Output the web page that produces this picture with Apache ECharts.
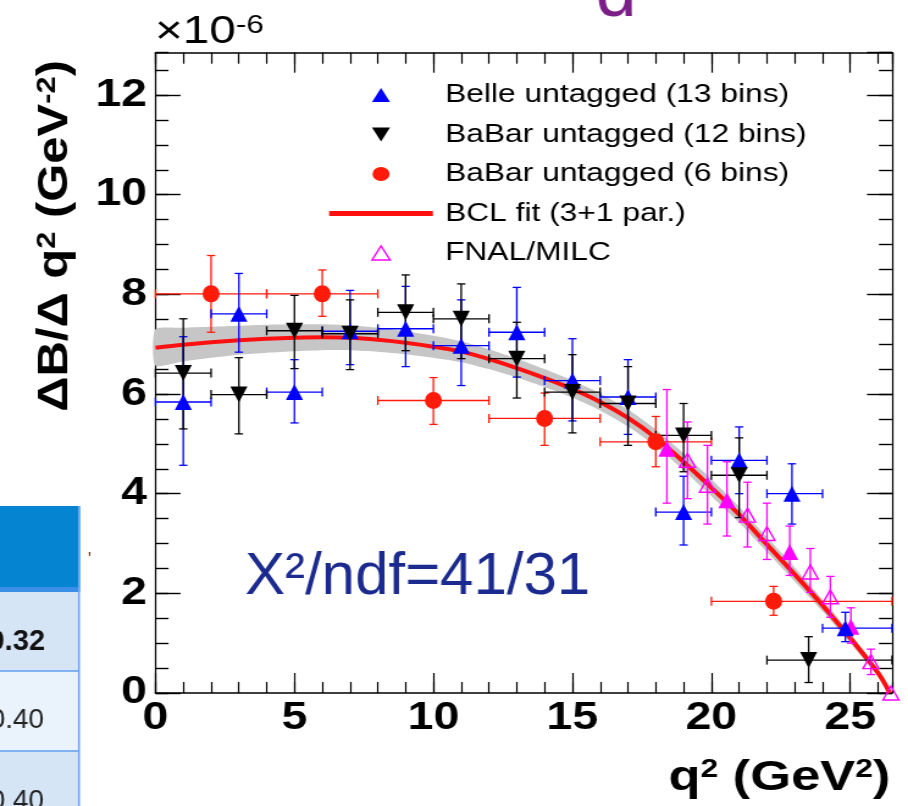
<!DOCTYPE html>
<html>
<head>
<meta charset="utf-8">
<title>dB/dq2 spectrum</title>
<script src="https://cdn.jsdelivr.net/npm/echarts@6/dist/echarts.min.js"></script>
<style>
  html, body { margin: 0; padding: 0; background: #fff; overflow: hidden; }
  #wrap { width: 908px; height: 806px; overflow: hidden; }
  /* the ROOT picture in the reference is stretched sideways, so the chart is too */
  #chart { width: 744px; height: 806px; transform: scaleX(1.22043); transform-origin: 0 0; }
</style>
</head>
<body>
<div id="wrap"><div id="chart"></div></div>
<script>
// Belle untagged, 13 bins
const belleQ2 = [1.0, 3.0, 5.0, 7.0, 9.0, 11.0, 13.0, 15.0, 17.0, 19.0, 21.0, 22.9, 24.82];
const belleBinLo = [0, 2, 4, 6, 8, 10, 12, 14, 16, 18, 20, 22, 24];
const belleBinHi = [2, 4, 6, 8, 10, 12, 14, 16, 18, 20, 22, 24, 26.5];
const belleVal = [5.84, 7.61, 6.04, 7.26, 7.31, 6.97, 7.24, 6.27, 5.94, 3.63, 4.67, 4.0, 1.3];
const belleErrLo = [4.57, 6.84, 5.42, 6.59, 6.55, 6.17, 6.34, 5.46, 5.19, 2.97, 4.0, 3.39, 1.03];
const belleErrHi = [7.15, 8.42, 6.69, 8.08, 8.16, 7.89, 8.14, 7.11, 6.69, 4.35, 5.34, 4.6, 1.62];

// BaBar untagged, 12 bins
const babar12Q2 = [1, 3, 5, 7, 9, 11, 13, 15, 17, 19, 21, 23.5];
const babar12BinLo = [0, 2, 4, 6, 8, 10, 12, 14, 16, 18, 20, 22];
const babar12BinHi = [2, 4, 6, 8, 10, 12, 14, 16, 18, 20, 22, 26.5];
const babar12Val = [6.42, 5.99, 7.27, 7.21, 7.64, 7.51, 6.71, 6.04, 5.81, 5.17, 4.37, 0.66];
const babar12ErrLo = [5.30, 5.2, 6.51, 6.49, 6.87, 6.71, 5.92, 5.22, 4.97, 4.44, 3.52, 0.21];
const babar12ErrHi = [7.51, 6.73, 7.98, 7.89, 8.39, 8.21, 7.44, 6.79, 6.55, 5.81, 5.12, 1.13];

// BaBar untagged, 6 bins
const babar6Q2 = [2.0, 6.0, 10.0, 14.0, 18.0, 22.24];
const babar6BinLo = [0, 4, 8, 12, 16, 20];
const babar6BinHi = [4, 8, 12, 16, 20, 26.5];
const babar6Val = [8.01, 8.01, 5.87, 5.51, 5.04, 1.84];
const babar6ErrLo = [7.24, 7.56, 5.39, 4.97, 4.54, 1.56];
const babar6ErrHi = [8.78, 8.49, 6.33, 6.02, 5.55, 2.14];

// FNAL/MILC lattice points (filled ones are the points used in the fit)
const lqcdQ2 = [18.4, 19.14, 19.86, 20.56, 21.3, 22.0, 22.82, 23.56, 24.28, 25.02, 25.74, 26.46];
const lqcdVal = [4.90, 4.67, 4.17, 3.87, 3.57, 3.2, 2.83, 2.43, 1.93, 1.33, 0.63, 0.0];
const lqcdErrLo = [3.81, 3.9, 3.39, 3.15, 2.93, 2.68, 2.36, 2.02, 1.52, 1.0, 0.37, 0.0];
const lqcdErrHi = [6.09, 5.44, 4.97, 4.64, 4.23, 3.81, 3.35, 2.9, 2.34, 1.71, 0.88, 0.0];
const lqcdInFit = [true, false, false, true, false, false, true, false, false, true, false, false];

// BCL fit (3+1 par.) and its error band
const fitQ2 = [0, 1, 2, 3, 4, 5, 6, 7, 8, 9, 10, 11, 12, 13, 14, 15, 16, 17, 18, 19, 20, 21, 22, 23, 24, 25, 26, 26.42];
const fitVal = [6.93, 6.99, 7.04, 7.08, 7.11, 7.13, 7.14, 7.13, 7.09, 7.03, 6.95, 6.85, 6.70, 6.52, 6.32, 6.10, 5.84, 5.52, 5.12, 4.64, 4.12, 3.58, 2.98, 2.38, 1.76, 1.10, 0.40, 0];
const bandLow = [6.57, 6.66, 6.73, 6.79, 6.83, 6.86, 6.88, 6.88, 6.85, 6.80, 6.73, 6.64, 6.50, 6.33, 6.14, 5.93, 5.67, 5.35, 4.95, 4.47, 3.95, 3.42, 2.83, 2.24, 1.64, 1.00, 0.34, 0];
const bandHigh = [7.30, 7.33, 7.35, 7.37, 7.39, 7.40, 7.40, 7.38, 7.33, 7.26, 7.17, 7.06, 6.90, 6.71, 6.50, 6.27, 6.01, 5.69, 5.29, 4.81, 4.29, 3.74, 3.13, 2.52, 1.88, 1.20, 0.46, 0.03];

// table cells visible at the left edge
const tableCells = ['0.32', '0.40', '0.40'];

const S = 908 / 744; // sideways stretch of the picture
const FONT = '"Liberation Sans", Arial, Helvetica, sans-serif';
const X_MAX = 26.5;
const Y_MAX = 12.85;

const chart = echarts.init(document.getElementById('chart'), null, { width: 744, height: 806 });

function xAxis(pos, interval, len, main) {
  return {
    type: 'value', position: pos, min: 0, max: X_MAX, interval: interval,
    axisLine: { show: main, onZero: false, lineStyle: { color: '#000', width: 1.5 } },
    axisTick: { show: true, inside: true, length: len, lineStyle: { color: '#000', width: 1.2 } },
    axisLabel: (main && pos === 'bottom') ? {
      show: true, showMaxLabel: false, margin: 7, color: '#000',
      fontSize: 38, fontWeight: 'bold', fontFamily: FONT
    } : { show: false },
    splitLine: { show: false }
  };
}
function yAxis(pos, interval, len, main) {
  return {
    type: 'value', position: pos, min: 0, max: Y_MAX, interval: interval,
    axisLine: { show: main, onZero: false, lineStyle: { color: '#000', width: 1.2 } },
    axisTick: { show: true, inside: true, length: len, lineStyle: { color: '#000', width: 1.4 } },
    axisLabel: (main && pos === 'left') ? {
      show: true, showMaxLabel: false, margin: 7, color: '#000',
      fontSize: 38, fontWeight: 'bold', fontFamily: FONT
    } : { show: false },
    splitLine: { show: false }
  };
}

function errorBars(color) {
  return function (params, api) {
    const x = api.value(0), y = api.value(1);
    const x0 = api.value(2), x1 = api.value(3), y0 = api.value(4), y1 = api.value(5);
    const st = { stroke: color, lineWidth: 1.3 };
    const kids = [];
    const seg = (ax, ay, bx, by) => ({ type: 'line', shape: { x1: ax, y1: ay, x2: bx, y2: by }, style: st });
    if (x1 > x0) {
      const a = api.coord([x0, y]), b = api.coord([x1, y]);
      kids.push(seg(a[0], a[1], b[0], b[1]));
      kids.push(seg(a[0], a[1] - 4.5, a[0], a[1] + 4.5));
      kids.push(seg(b[0], b[1] - 4.5, b[0], b[1] + 4.5));
    }
    if (y1 > y0) {
      const lo = api.coord([x, y0]), hi = api.coord([x, y1]);
      kids.push(seg(lo[0], lo[1], hi[0], hi[1]));
      kids.push(seg(lo[0] - 3.4, lo[1], lo[0] + 3.4, lo[1]));
      kids.push(seg(hi[0] - 3.4, hi[1], hi[0] + 3.4, hi[1]));
    }
    return { type: 'group', children: kids };
  };
}

function barRows(q, lo, hi, v, elo, ehi) {
  return q.map((x, i) => [x, v[i], lo ? lo[i] : x, hi ? hi[i] : x, elo[i], ehi[i]]);
}
const zip = (a, b) => a.map((x, i) => [x, b[i]]);

const lqcdOpen = [], lqcdFilled = [];
lqcdQ2.forEach((q, i) => (lqcdInFit[i] ? lqcdFilled : lqcdOpen).push([q, lqcdVal[i]]));

const upTri = 'path://M0,14L7.4,0L14.8,14Z';
const downTri = 'path://M0,0L14.8,0L7.4,14Z';
const bar = 'path://M0,0H85V5H0Z';

const option = {
  animation: false,
  backgroundColor: '#fff',
  grid: { left: 127.4, right: 13.1, top: 52.7, bottom: 113, containLabel: false, outerBoundsMode: 'none' },
  xAxis: [
    xAxis('bottom', 5, 20, true),
    xAxis('bottom', 1, 11, false),
    xAxis('top', 5, 20, true),
    xAxis('top', 1, 11, false)
  ],
  yAxis: [
    yAxis('left', 2, 20.5, true),
    yAxis('left', 0.5, 10.7, false),
    yAxis('right', 2, 20.5, true),
    yAxis('right', 0.5, 10.7, false)
  ],
  legend: {
    left: 264.7, top: 77, orient: 'vertical', selectedMode: false,
    itemWidth: 85, itemHeight: 14, itemGap: 13.5,
    textStyle: { fontSize: 26, fontFamily: FONT, color: '#000', lineHeight: 26, padding: [0, 0, 0, 5] },
    data: [
      { name: 'Belle untagged (13 bins)', icon: upTri, itemStyle: { color: '#0000ff', opacity: 1 } },
      { name: 'BaBar untagged (12 bins)', icon: downTri, itemStyle: { color: '#000', opacity: 1 } },
      { name: 'BaBar untagged (6 bins)', icon: 'circle', itemStyle: { color: '#ff1a0a', opacity: 1 } },
      { name: 'BCL fit (3+1 par.)', icon: bar, itemStyle: { color: '#ff1010', opacity: 1 } },
      { name: 'FNAL/MILC', icon: upTri, itemStyle: { color: '#fff', borderColor: '#ff00ff', borderWidth: 1.4, opacity: 1 } }
    ]
  },
  series: [
    {
      name: 'fit band', type: 'custom', z: 1, silent: true,
      data: fitQ2.map((q, i) => [q, bandLow[i], bandHigh[i]]),
      encode: { x: 0, y: [1, 2] },
      renderItem: function (params, api) {
        if (params.dataIndex !== 0) return null;
        const pts = [];
        for (let i = 0; i < fitQ2.length; i++) pts.push(api.coord([fitQ2[i], bandHigh[i]]));
        for (let i = fitQ2.length - 1; i >= 0; i--) pts.push(api.coord([fitQ2[i], bandLow[i]]));
        return { type: 'polygon', shape: { points: pts, smooth: 0.2 }, style: { fill: '#c6c6c6' } };
      }
    },
    {
      name: 'BCL fit (3+1 par.)', type: 'line', z: 2, smooth: 0.35, symbol: 'none', showSymbol: false,
      data: zip(fitQ2, fitVal),
      lineStyle: { color: '#ff1010', width: 4 },
      itemStyle: { color: '#ff1010' }
    },
    {
      name: 'BaBar 6 errors', type: 'custom', z: 3, encode: { x: 0, y: 1 },
      data: barRows(babar6Q2, babar6BinLo, babar6BinHi, babar6Val, babar6ErrLo, babar6ErrHi),
      renderItem: errorBars('#ff1a0a')
    },
    {
      name: 'Belle errors', type: 'custom', z: 3, encode: { x: 0, y: 1 },
      data: barRows(belleQ2, belleBinLo, belleBinHi, belleVal, belleErrLo, belleErrHi),
      renderItem: errorBars('#0000ff')
    },
    {
      name: 'BaBar 12 errors', type: 'custom', z: 3, encode: { x: 0, y: 1 },
      data: barRows(babar12Q2, babar12BinLo, babar12BinHi, babar12Val, babar12ErrLo, babar12ErrHi),
      renderItem: errorBars('#000000')
    },
    {
      name: 'FNAL errors', type: 'custom', z: 3, encode: { x: 0, y: 1 },
      data: barRows(lqcdQ2, null, null, lqcdVal, lqcdErrLo, lqcdErrHi),
      renderItem: errorBars('#ff00ff')
    },
    {
      name: 'FNAL/MILC', type: 'scatter', z: 4, symbol: 'triangle', symbolSize: [13, 14],
      data: lqcdOpen,
      itemStyle: { color: 'rgba(255,255,255,0)', borderColor: '#ff00ff', borderWidth: 1.4, opacity: 1 }
    },
    {
      name: 'FNAL/MILC (in fit)', type: 'scatter', z: 4, symbol: 'triangle', symbolSize: [14, 16],
      data: lqcdFilled, itemStyle: { color: '#ff00ff', opacity: 1 }
    },
    {
      name: 'BaBar untagged (6 bins)', type: 'scatter', z: 5, symbol: 'circle', symbolSize: [14, 17],
      data: zip(babar6Q2, babar6Val), itemStyle: { color: '#ff1a0a', opacity: 1 }
    },
    {
      name: 'Belle untagged (13 bins)', type: 'scatter', z: 5, symbol: 'triangle', symbolSize: [14, 16],
      data: zip(belleQ2, belleVal), itemStyle: { color: '#0000ff', opacity: 1 }
    },
    {
      name: 'BaBar untagged (12 bins)', type: 'scatter', z: 5, symbol: 'triangle', symbolRotate: 180,
      symbolSize: [14, 16], data: zip(babar12Q2, babar12Val), itemStyle: { color: '#000000', opacity: 1 }
    }
  ],
  graphic: [
    // exponent of the y axis
    {
      type: 'text', x: 127, y: 13, z: 10,
      style: {
        text: '{m|×10}{s|-6}', verticalAlign: 'top',
        rich: {
          m: { fontSize: 39, lineHeight: 39, fontFamily: FONT, fill: '#000', color: '#000' },
          s: { fontSize: 26, lineHeight: 2, verticalAlign: 'top', fontFamily: FONT, fill: '#000', color: '#000' }
        }
      }
    },
    // y axis title
    {
      type: 'text', x: 45, y: 60, rotation: Math.PI / 2, scaleX: 1.4, z: 10,
      style: {
        text: '{m|ΔB/Δ q}{s|2}{m| (GeV}{s|-2}{m|)}', align: 'right', verticalAlign: 'middle',
        rich: {
          m: { fontSize: 35, lineHeight: 35, fontWeight: 'bold', fontFamily: FONT, fill: '#000', color: '#000' },
          s: { fontSize: 22, lineHeight: 25, verticalAlign: 'top', fontWeight: 'bold', fontFamily: FONT, fill: '#000', color: '#000' }
        }
      }
    },
    // x axis title
    {
      type: 'text', x: 729.5, y: 757, z: 10,
      style: {
        text: '{m|q}{s|2}{m| (GeV}{s|2}{m|)}', align: 'right', verticalAlign: 'top',
        rich: {
          m: { fontSize: 43, lineHeight: 43, fontWeight: 'bold', fontFamily: FONT, fill: '#000', color: '#000' },
          s: { fontSize: 26, lineHeight: 28, verticalAlign: 'top', fontWeight: 'bold', fontFamily: FONT, fill: '#000', color: '#000' }
        }
      }
    },
    // chi2 note on the slide
    {
      type: 'text', x: 245 / S, y: 577, scaleX: 1 / S, z: 10,
      style: { text: 'X²/ndf=41/31', fontSize: 60, fontFamily: FONT, fill: '#1b2a8e', verticalAlign: 'middle' }
    },
    // purple letter cut by the top edge
    {
      type: 'text', x: 595.5 / S, y: -4.5, scaleX: 1 / S, z: 10,
      style: { text: 'd', fontSize: 74, fontFamily: FONT, fill: '#7b1e87', verticalAlign: 'middle' }
    },
    // table fragment on the left
    { type: 'rect', shape: { x: 0, y: 506, width: 80 / S, height: 82 }, style: { fill: '#0584d2' }, z: 0 },
    { type: 'rect', shape: { x: 0, y: 587, width: 80 / S, height: 5 }, style: { fill: '#3b8ee6' }, z: 0 },
    { type: 'rect', shape: { x: 0, y: 592, width: 79 / S, height: 79 }, style: { fill: '#d5e5f6' }, z: 0 },
    { type: 'rect', shape: { x: 0, y: 671, width: 79 / S, height: 80 }, style: { fill: '#eaf2fb' }, z: 0 },
    { type: 'rect', shape: { x: 0, y: 751, width: 79 / S, height: 55 }, style: { fill: '#d5e5f6' }, z: 0 },
    { type: 'line', shape: { x1: 0, y1: 671, x2: 79 / S, y2: 671 }, style: { stroke: '#5f9ff0', lineWidth: 1.5 }, z: 1 },
    { type: 'line', shape: { x1: 0, y1: 751, x2: 79 / S, y2: 751 }, style: { stroke: '#5f9ff0', lineWidth: 1.5 }, z: 1 },
    { type: 'line', shape: { x1: 79 / S, y1: 506, x2: 79 / S, y2: 806 }, style: { stroke: '#6aa6f2', lineWidth: 1.6 }, z: 1 },
    {
      type: 'text', x: 45 / S, y: 642, scaleX: 1 / S, z: 2,
      style: { text: tableCells[0], fontSize: 29, fontWeight: 'bold', fontFamily: FONT, fill: '#111', align: 'right', verticalAlign: 'middle' }
    },
    {
      type: 'text', x: 44 / S, y: 720, scaleX: 1 / S, z: 2,
      style: { text: tableCells[1], fontSize: 28, fontFamily: FONT, fill: '#222', align: 'right', verticalAlign: 'middle' }
    },
    {
      type: 'text', x: 44 / S, y: 801, scaleX: 1 / S, z: 2,
      style: { text: tableCells[2], fontSize: 28, fontFamily: FONT, fill: '#222', align: 'right', verticalAlign: 'middle' }
    },
    {
      type: 'text', x: 88 / S, y: 560, scaleX: 1 / S, z: 2,
      style: { text: "'", fontSize: 18, fontFamily: FONT, fill: '#6b3b1a', verticalAlign: 'middle' }
    }
  ]
};

chart.setOption(option);
</script>
</body>
</html>
